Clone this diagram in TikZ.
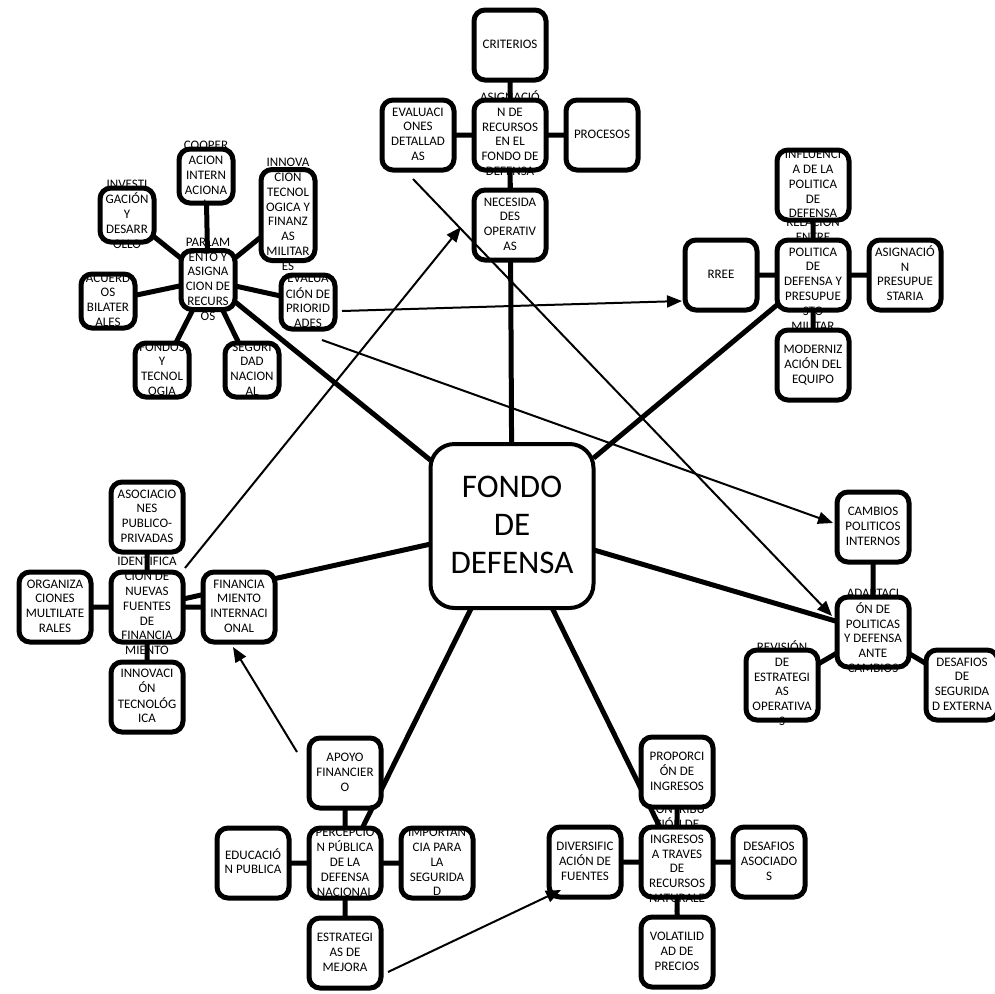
\documentclass[tikz,border=0pt]{standalone}
\usepackage{fontspec}
\setmainfont{Carlito}
\usepackage{tikz}
\usetikzlibrary{positioning, arrows.meta, backgrounds}

\pgfdeclarelayer{borders}
\pgfsetlayers{background,main,borders}

% text that may run out of its box
\newcommand{\bt}[1]{\makebox[0pt]{\smash{\raisebox{-.25em}{\begin{tabular}{@{}c@{}}#1\end{tabular}}}}}

\begin{document}
\begin{tikzpicture}
[x=1pt, y=-1pt,
 node distance=20pt,
 framed/.style={append after command={\pgfextra{\begin{pgfonlayer}{borders}
   \draw[line width=#1, rounded corners=\boxround]
   (\tikzlastnode.south west) rectangle (\tikzlastnode.north east);
   \end{pgfonlayer}}}},
 box/.style={fill=white, outer sep=0pt, inner sep=0pt,
   rounded corners=11pt, minimum width=72pt, minimum height=70pt,
   font=\fontsize{13}{14.8}\selectfont,
   execute at begin node={\gdef\boxround{11pt}}, framed=5pt},
 sbox/.style={box, minimum width=54pt, minimum height=54pt},
 mainbox/.style={fill=white, outer sep=0pt, inner sep=0pt,
   rounded corners=24pt, minimum width=163pt, minimum height=164pt,
   font=\fontsize{33}{38}\selectfont,
   execute at begin node={\gdef\boxround{24pt}}, framed=4pt},
 link/.style={line width=5pt},
 arr/.style={-{Triangle[length=15pt,width=12pt]}, line width=2pt},
]
\useasboundingbox (0,0) rectangle (994,994);

\node[mainbox] (fondo) at (512,526) {\bt{FONDO\\DE\\DEFENSA}};

% asignacion
\node[box] (asig) at (510,135) {\bt{ASIGNACIÓ\\N DE\\RECURSOS\\EN EL\\FONDO DE\\DEFENSA}};
\node[box, above=of asig] (crit) {\bt{CRITERIOS}};
\node[box, left=of asig] (evald) {\bt{EVALUACI\\ONES\\DETALLAD\\AS}};
\node[box, right=of asig] (proc) {\bt{PROCESOS}};
\node[box, below=of asig] (neces) {\bt{NECESIDA\\DES\\OPERATIV\\AS}};

% parlamento
\node[sbox, minimum height=59pt] (parl) at (208,280) {\bt{PARLAM\\ENTO Y\\ASIGNA\\CION DE\\RECURS\\OS}};
\node[sbox] (coop) at (206,176) {\bt{COOPER\\ACION\\INTERN\\ACIONA\\L}};
\node[sbox] (invest) at (127,215) {\bt{INVESTI\\GACIÓN\\Y\\DESARR\\OLLO}};
\node[sbox, minimum height=91pt] (innova) at (288,215) {\bt{INNOVA\\CIÓN\\TECNOL\\OGICA Y\\FINANZ\\AS\\MILITAR\\ES}};
\node[sbox] (acuer) at (108,301) {\bt{ACUERD\\OS\\BILATER\\ALES}};
\node[sbox] (evalp) at (308,302) {\bt{EVALUA\\CIÓN DE\\PRIORID\\ADES}};
\node[sbox] (fondos) at (162,370) {\bt{FONDOS\\Y\\TECNOL\\OGIA}};
\node[sbox] (segur) at (252,370) {\bt{SEGURI\\DAD\\NACION\\AL}};

% relacion politica
\node[box] (relac) at (813,275) {\bt{RELACION\\ENTRE\\POLITICA\\DE\\DEFENSA Y\\PRESUPUE\\STO\\MILITAR}};
\node[box, above=of relac] (influ) {\bt{INFLUENCI\\A DE LA\\POLITICA\\DE\\DEFENSA}};
\node[box, left=of relac] (rree) {\bt{RREE}};
\node[box, right=of relac] (asigp) {\bt{ASIGNACIÓ\\N\\PRESUPUE\\STARIA}};
\node[box, below=of relac] (moder) {\bt{MODERNIZ\\ACIÓN DEL\\EQUIPO}};

% nuevas fuentes
\node[box] (ident) at (147,607) {\bt{IDENTIFICA\\CION DE\\NUEVAS\\FUENTES\\DE\\FINANCIA\\MIENTO}};
\node[box, above=of ident] (asoc) {\bt{ASOCIACIO\\NES\\PUBLICO-\\PRIVADAS}};
\node[box, left=of ident] (org) {\bt{ORGANIZA\\CIONES\\MULTILATE\\RALES}};
\node[box, right=of ident] (finint) {\bt{FINANCIA\\MIENTO\\INTERNACI\\ONAL}};
\node[box, below=of ident] (innov) {\bt{INNOVACI\\ÓN\\TECNOLÓG\\ICA}};

% adaptacion
\node[box] (adapt) at (873,632) {\bt{ADAPTACI\\ÓN DE\\POLITICAS\\Y DEFENSA\\ANTE\\CAMBIOS}};
\node[box, above=35pt of adapt] (camb) {\bt{CAMBIOS\\POLITICOS\\INTERNOS}};
\node[box] (revis) at (782,685) {\bt{REVISIÓN\\DE\\ESTRATEGI\\AS\\OPERATIVA\\S}};
\node[box] (desse) at (962,685) {\bt{DESAFIOS\\DE\\SEGURIDA\\D EXTERNA}};

% percepcion publica
\node[box] (percep) at (345,863) {\bt{PERCEPCIO\\N PÚBLICA\\DE LA\\DEFENSA\\NACIONAL}};
\node[box, above=of percep] (apoyo) {\bt{APOYO\\FINANCIER\\O}};
\node[box, left=of percep] (edu) {\bt{EDUCACIÓ\\N PUBLICA}};
\node[box, right=of percep] (impo) {\bt{IMPORTAN\\CIA PARA\\LA\\SEGURIDA\\D}};
\node[box, below=of percep] (estr) {\bt{ESTRATEGI\\AS DE\\MEJORA}};

% recursos naturales
\node[box] (contr) at (677,862) {\bt{CONTRIBU\\CIÓN DE\\INGRESOS\\A TRAVES\\DE\\RECURSOS\\NATURALE\\S}};
\node[box, above=of contr] (prop) {\bt{PROPORCI\\ÓN DE\\INGRESOS}};
\node[box, left=of contr] (diver) {\bt{DIVERSIFIC\\ACIÓN DE\\FUENTES}};
\node[box, right=of contr] (desas) {\bt{DESAFIOS\\ASOCIADO\\S}};
\node[box, below=of contr] (volat) {\bt{VOLATILID\\AD DE\\PRECIOS}};

\begin{scope}[on background layer]
\draw[link]
(fondo) -- (asig) (fondo) -- (parl) (fondo) -- (relac) (fondo) -- (ident)
(fondo) -- (adapt) (fondo) -- (percep) (fondo) -- (contr)
(asig) -- (crit) (asig) -- (evald) (asig) -- (proc) (asig) -- (neces)
(parl) -- (coop) (parl) -- (invest) (parl) -- (innova) (parl) -- (acuer)
(parl) -- (evalp) (parl) -- (fondos) (parl) -- (segur)
(relac) -- (influ) (relac) -- (rree) (relac) -- (asigp) (relac) -- (moder)
(ident) -- (asoc) (ident) -- (org) (ident) -- (finint) (ident) -- (innov)
(adapt) -- (camb) (adapt) -- (revis) (adapt) -- (desse)
(percep) -- (apoyo) (percep) -- (edu) (percep) -- (impo) (percep) -- (estr)
(contr) -- (prop) (contr) -- (diver) (contr) -- (desas) (contr) -- (volat);
\end{scope}

% flechas sueltas
\coordinate (identout) at (185,568);
\coordinate (necesin) at (461,227);
\coordinate (evaldout) at (413,179);
\coordinate (adaptin) at (832,616);
\coordinate (prioout) at (322,340);
\coordinate (cambin) at (833,523);
\coordinate (prioout2) at (342,311);
\coordinate (rreein) at (682,301);
\coordinate (estrout) at (388,972);
\coordinate (diverin) at (561,890);
\coordinate (apoyoout) at (297,752);
\coordinate (finin) at (233,647);

\begin{pgfonlayer}{borders}
\draw[arr] (identout) -- (necesin);
\draw[arr] (evaldout) -- (adaptin);
\draw[arr] (prioout) -- (cambin);
\draw[arr] (prioout2) -- (rreein);
\draw[arr] (estrout) -- (diverin);
\draw[arr] (apoyoout) -- (finin);
\end{pgfonlayer}
\end{tikzpicture}
\end{document}
